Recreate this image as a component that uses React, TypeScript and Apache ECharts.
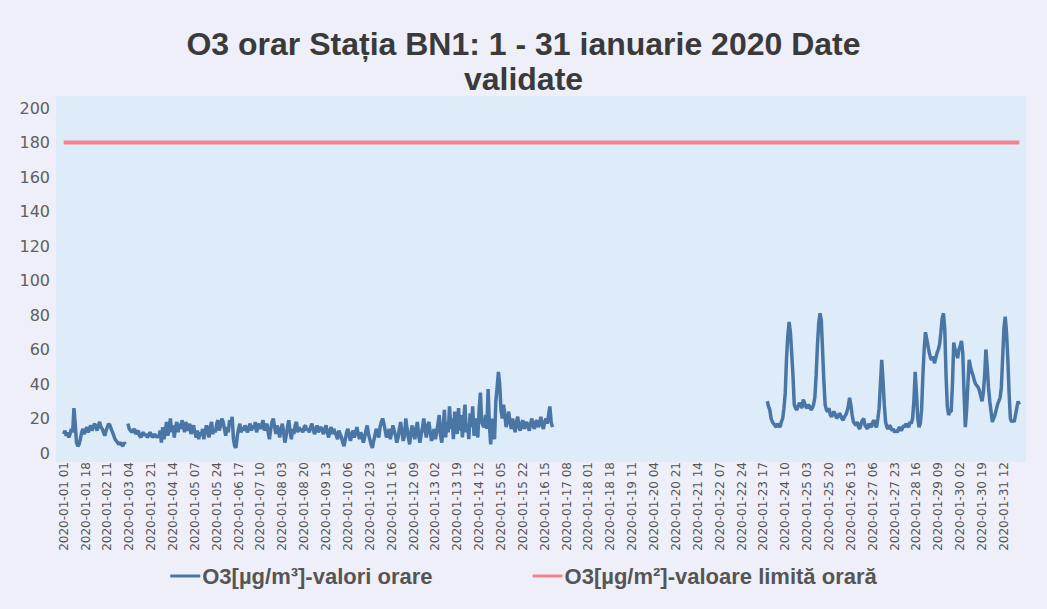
import React, { useEffect, useRef } from "react";
import * as echarts from "echarts";

const TITLE = "O3 orar Stația BN1: 1 - 31 ianuarie 2020 Date\nvalidate";
const SERIES_HOURLY = "O3[µg/m³]-valori orare";
const SERIES_LIMIT = "O3[µg/m²]-valoare limită orară";
const LIMIT_VALUE = 180;
const Y_TICKS = [0, 20, 40, 60, 80, 100, 120, 140, 160, 180, 200];
const DAYS = 31;
const HOURS = 24;

// O3 hourly values from 2020-01-01 01 to 2020-01-16 21 (index 0..380)
const o3Part1: (number | null)[] = [
  11, 13, 10, 12, 9, 11, 14, 12, 26, 17, 6, 4, 5, 8, 12, 14, 11, 13, 15, 12, 14, 16, 13, 15,
  17, 15, 13, 16, 18, 15, 14, 12, 10, 13, 15, 17, 16, 14, 12, 10, 8, 7, 6, 5, 6, 5, 4, 6,
  5, null, 17, 14, 13, 12, 13, 14, 11, 12, 13, 10, 9, 11, 12, 10, 11, 9, 10, 12, 11, 9, 10, 11,
  9, 10, 9, 13, 6, 15, 8, 12, 18, 10, 14, 20, 12, 16, 9, 15, 18, 12, 17, 14, 19, 16, 12, 18,
  15, 13, 17, 11, 14, 16, 12, 9, 13, 8, 12, 10, 14, 8, 12, 16, 13, 9, 15, 18, 11, 14, 12, 17,
  19, 13, 16, 20, 18, 14, 10, 15, 12, 19, 16, 21, 8, 4, 3, 10, 14, 17, 12, 15, 13, 16, 14, 12,
  15, 17, 13, 16, 14, 18, 12, 15, 17, 14, 16, 19, 13, 15, 17, 12, 8, 14, 18, 20, 15, 11, 16, 13,
  9, 14, 17, 12, 6, 10, 15, 19, 13, 8, 14, 11, 16, 18, 12, 15, 13, 14, 12, 15, 16, 13, 14, 12,
  15, 17, 14, 11, 13, 16, 12, 14, 15, 13, 11, 14, 16, 12, 9, 13, 15, 11, 14, 12, 10, 8, 13, 11,
  9, 6, 4, 8, 12, 14, 10, 7, 11, 13, 9, 12, 15, 11, 8, 12, 10, 6, 9, 13, 16, 11, 8, 5,
  3, 7, 10, 14, 12, 9, 15, 18, 20, 17, 13, 9, 11, 14, 8, 12, 16, 13, 10, 6, 9, 14, 18, 12,
  7, 10, 20, 14, 9, 5, 12, 16, 11, 8, 14, 18, 10, 6, 11, 15, 20, 13, 9, 16, 18, 12, 7, 10,
  14, 8, 12, 17, 22, 10, 6, 15, 25, 9, 18, 12, 27, 14, 20, 8, 24, 16, 11, 26, 13, 22, 9, 19,
  28, 12, 17, 8, 23, 15, 27, 10, 20, 14, 9, 25, 35, 18, 16, 15, 22, 14, 37, 16, 5, 20, 12, 8,
  30, 38, 47, 40, 25, 20, 28, 22, 15, 19, 24, 18, 14, 20, 16, 12, 18, 21, 15, 13, 17, 19, 14, 16,
  18, 15, 13, 17, 20, 16, 14, 18, 19, 15, 17, 21, 16, 14, 18, 20, 17, 22, 27, 18, 15,
];

// O3 hourly values from 2020-01-23 20 to 2020-01-31 24 (index 547..743)
const PART2_START = 547;
const o3Part2: number[] = [
  30, 27, 25, 20, 18, 17, 16, 15, 17, 16, 15, 18, 20, 26, 35, 55, 68, 76, 70, 58, 45, 28, 26, 25, 27,
  29, 28, 26, 31, 29, 27, 26, 28, 27, 25, 26, 28, 32, 45, 62, 75, 81, 77, 60, 42, 28, 25, 24, 26, 22,
  21, 23, 24, 22, 20, 21, 23, 22, 20, 19, 21, 22, 24, 27, 32, 28, 22, 18, 17, 16, 18, 15, 14, 17, 19,
  20, 16, 15, 14, 17, 16, 15, 18, 19, 16, 15, 20, 26, 40, 54, 42, 28, 18, 15, 14, 16, 15, 13, 14, 12,
  13, 12, 14, 15, 13, 14, 16, 15, 17, 16, 15, 18, 17, 20, 30, 47, 35, 20, 15, 17, 25, 45, 60, 70, 66,
  62, 58, 55, 54, 56, 52, 55, 58, 60, 63, 70, 78, 81, 72, 45, 27, 22, 24, 24, 40, 64, 60, 58, 55, 60,
  62, 65, 58, 35, 15, 25, 40, 54, 50, 47, 45, 42, 40, 39, 38, 36, 33, 30, 35, 45, 60, 50, 38, 30, 24,
  18, 20, 22, 25, 28, 30, 32, 38, 55, 72, 79, 70, 55, 35, 20, 18, 19, 18, 22, 26, 30, 28,
];

const pad2 = (n: number) => (n < 10 ? "0" + n : "" + n);
const categories: string[] = [];
for (let d = 1; d <= DAYS; d++) {
  for (let h = 1; h <= HOURS; h++) {
    categories.push(`2020-01-${pad2(d)} ${pad2(h)}`);
  }
}

const hourlyValues: (number | null)[] = categories.map(() => null);
o3Part1.forEach((v, k) => (hourlyValues[k] = v));
o3Part2.forEach((v, k) => (hourlyValues[PART2_START + k] = v));

export default function App() {
  const ref = useRef<HTMLDivElement>(null);
  useEffect(() => {
    if (!ref.current) return;
    const chart = echarts.init(ref.current, undefined, { renderer: "svg" });
    chart.setOption({
      animation: false,
      backgroundColor: "#efeff9",
      title: {
        text: TITLE,
        left: "center",
        top: 21,
        textStyle: {
          fontFamily: "Liberation Sans, Arial, sans-serif",
          fontSize: 32,
          fontWeight: "bold",
          color: "#3a3a3a",
          lineHeight: 35,
        },
      },
      graphic: [
        {
          type: "rect",
          z: -10,
          silent: true,
          shape: { x: 56, y: 96, width: 970, height: 366 },
          style: { fill: "#deecf9" },
        },
      ],
      legend: {
        bottom: 17,
        left: "center",
        itemGap: 100,
        itemWidth: 30,
        itemHeight: 3,
        icon: "rect",
        textStyle: {
          fontFamily: "Liberation Sans, Arial, sans-serif",
          fontSize: 22,
          fontWeight: "bold",
          color: "#555",
          padding: [0, 0, 0, -3],
        },
        data: [SERIES_HOURLY, SERIES_LIMIT],
      },
      grid: { left: 63, right: 27, top: 108, bottom: 156 },
      xAxis: {
        type: "category",
        data: categories,
        boundaryGap: true,
        axisLine: { show: false },
        axisTick: { show: false },
        splitLine: { show: false },
        axisLabel: {
          interval: 16,
          rotate: 90,
          margin: 9,
          fontFamily: "DejaVu Sans, sans-serif",
          fontSize: 12,
          color: "#555",
        },
      },
      yAxis: {
        type: "value",
        min: 0,
        max: 200,
        interval: 20,
        axisLine: { show: false },
        axisTick: { show: false },
        splitLine: { show: false },
        axisLabel: {
          margin: 13,
          fontFamily: "DejaVu Sans, sans-serif",
          fontSize: 16,
          color: "#606060",
          formatter: (v: number) => (Y_TICKS.includes(v) ? String(v) : ""),
        },
      },
      series: [
        {
          name: SERIES_HOURLY,
          type: "line",
          data: hourlyValues,
          showSymbol: false,
          connectNulls: false,
          lineStyle: { color: "#4a76a6", width: 3.5 },
          itemStyle: { color: "#4a76a6" },
        },
        {
          name: SERIES_LIMIT,
          type: "line",
          data: [
            [categories[0], LIMIT_VALUE],
            [categories[categories.length - 1], LIMIT_VALUE],
          ],
          showSymbol: false,
          lineStyle: { color: "#f5838f", width: 4 },
          itemStyle: { color: "#f5838f" },
        },
      ],
    });
    return () => chart.dispose();
  }, []);
  return (
    <div
      ref={ref}
      style={{ position: "fixed", left: 0, top: 0, width: 1047, height: 609 }}
    />
  );
}
